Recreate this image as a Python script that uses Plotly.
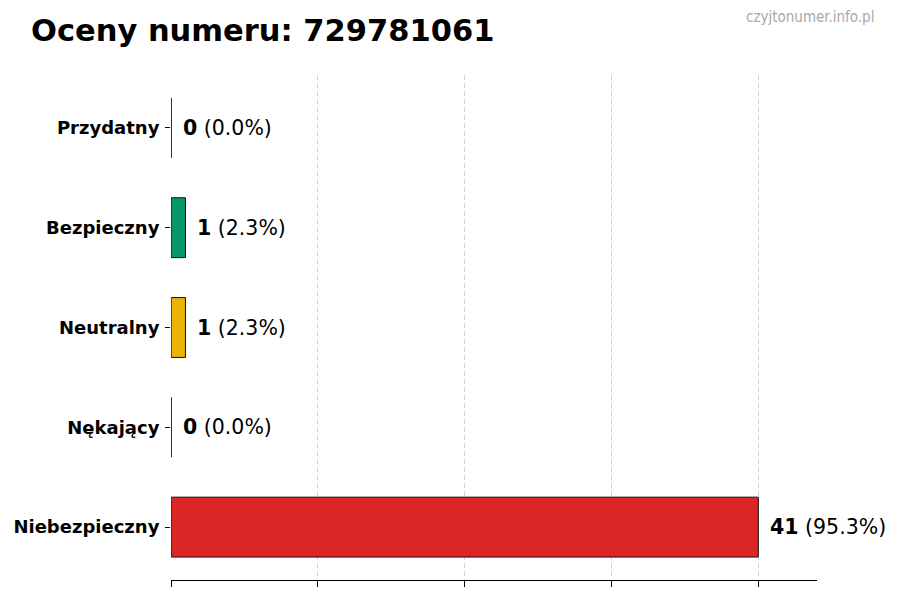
import plotly.graph_objects as go

categories = ["Przydatny", "Bezpieczny", "Neutralny", "Nękający", "Niebezpieczny"]
counts = [0, 1, 1, 0, 41]
percents = [0.0, 2.3, 2.3, 0.0, 95.3]
colors = ["#9ca3af", "#059669", "#eab308", "#7c3aed", "#dc2626"]
x_ticks = [0, 10.25, 20.5, 30.75, 41]
x_max = 45.1
title = "Oceny numeru: 729781061"
watermark = "czyjtonumer.info.pl"

ypos = list(range(len(categories)))

W, H = 892, 592
L, R, T, B = 163, 83, 67, 20
PW, PH = W - L - R, H - T - B

fig = go.Figure()
fig.add_trace(go.Bar(
    x=counts, y=ypos, orientation="h", width=0.6,
    marker=dict(color=colors, line=dict(color="#111111", width=1)),
    hoverinfo="skip", showlegend=False,
))

annotations = []
for c, p, y in zip(counts, percents, ypos):
    annotations.append(dict(
        x=c, y=y, xref="x", yref="y", xanchor="left", yanchor="middle",
        xshift=10, showarrow=False,
        text=f"<b>{c}</b> ({p:.1f}%)",
        font=dict(family="DejaVu Sans", size=20.5, color="#000000"),
    ))

annotations.append(dict(
    x=(868 - L) / PW, y=1 + (T - 9) / PH, xref="paper", yref="paper", showarrow=False,
    text=watermark, xanchor="right", yanchor="middle",
    font=dict(family="DejaVu Sans Condensed, DejaVu Sans", size=15, color="#a8a8a8"),
))

fig.update_layout(
    width=W, height=H,
    margin=dict(l=L, r=R, t=T, b=B, autoexpand=False),
    paper_bgcolor="white", plot_bgcolor="white",
    title=dict(text=f"<b>{title}</b>", x=23 / W, xanchor="left", y=1 - 22 / H, yanchor="middle",
               font=dict(family="DejaVu Sans", size=30.5, color="#000000")),
    xaxis=dict(range=[-0.01, x_max], tickvals=x_ticks, showticklabels=False,
               ticks="outside", ticklen=6, tickcolor="#000", showline=True, linecolor="#000",
               linewidth=1, showgrid=True, gridcolor="#d4d4d4", griddash="5px,3px", gridwidth=1,
               zeroline=False, layer="above traces", fixedrange=True, automargin=False),
    yaxis=dict(range=[4.53, -0.53], tickvals=ypos, ticktext=[f"<b>{c}</b>" for c in categories],
               ticks="outside", ticklen=5, tickcolor="#000", showline=False, showgrid=False,
               ticklabelstandoff=2, automargin=False,
               zeroline=False, tickfont=dict(family="DejaVu Sans", size=18, color="#000"),
               fixedrange=True),
    annotations=annotations,
)

fig.write_html("out.html")
